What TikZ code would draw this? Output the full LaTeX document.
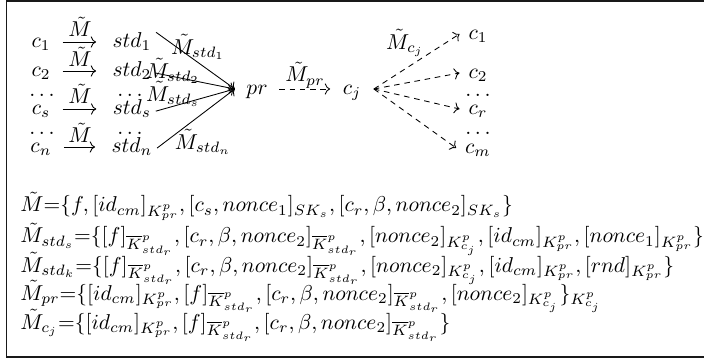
\documentclass[tikz,border=0pt]{standalone}
\usepackage{amsmath}
\usetikzlibrary{arrows.meta}
\begin{document}
\begin{tikzpicture}[x=0.465pt,y=-0.465pt,
  mnode/.style={text height=7pt,text depth=2pt,inner sep=2pt},
  tnode/.style={mnode,inner sep=4pt},
  dotnode/.style={anchor=base,inner sep=0pt},
  lbl/.style={inner sep=0pt},
  arr/.style={-{Computer Modern Rightarrow},line width=0.4pt},
  rowarr/.style={arr,shorten <=3.5pt,shorten >=5.5pt},
  darr/.style={arr,dashed,dash pattern=on 2.6pt off 2.2pt},
  eq/.style={anchor=base west,inner sep=0pt},
  frame/.style={line width=0.9pt,draw=black!90}]
\useasboundingbox (0,0) rectangle (704,360);
\draw[frame] (720,0.9) -- (6.5,0.9) -- (6.5,357.3) -- (720,357.3);
% left column
\node[mnode] (c1) at (41,42) {$c_1$};
\node[mnode] (s1) at (132,42) {$std_1$};
\node[mnode] (c2) at (41,71) {$c_2$};
\node[mnode] (s2) at (132,71) {$std_2$};
\node[dotnode] (dl1) at (42,97) {$\ldots$};
\node[dotnode] (dr1) at (130,97) {$\ldots$};
\node[mnode] (cs) at (41,109) {$c_s$};
\node[mnode] (ss) at (132,109) {$std_s$};
\node[dotnode] (dl2) at (42,135) {$\ldots$};
\node[dotnode] (dr2) at (130,135) {$\ldots$};
\node[mnode] (cn) at (41,147) {$c_n$};
\node[mnode] (sn) at (132,147) {$std_n$};
\draw[rowarr] (c1) -- (s1);
\draw[rowarr] (c2) -- (s2);
\draw[rowarr] (cs) -- (ss);
\draw[rowarr] (cn) -- (sn);
\node[lbl] (l1) at (80,27) {$\tilde{M}$};
\node[lbl] (l2) at (80,57) {$\tilde{M}$};
\node[lbl] (l3) at (80,94) {$\tilde{M}$};
\node[lbl] (l4) at (80,133) {$\tilde{M}$};
% pr
\node[mnode,inner sep=5.2pt] (pr) at (257,89) {$pr$};
\draw[arr] ([yshift=4.5pt]s1.east) -- (pr.west);
\draw[arr] ([yshift=-1pt]s2.east) -- (pr.west);
\draw[arr] ([yshift=-1pt]ss.east) -- (pr.west);
\draw[arr] ([yshift=-0.5pt]sn.east) -- (pr.west);
\node[lbl] (m1) at (198,47) {$\tilde{M}_{std_1}$};
\node[lbl] (m2) at (173,71) {$\tilde{M}_{std_2}$};
\node[lbl] (m3) at (173,94) {$\tilde{M}_{std_s}$};
\node[lbl] (m4) at (203,142) {$\tilde{M}_{std_n}$};
% c_j
\node[mnode,inner sep=5.7pt] (cj) at (352,89) {$c_j$};
\draw[darr] (pr) -- (cj);
\node[lbl] (mpr) at (305,75) {$\tilde{M}_{pr}$};
\node[tnode] (t1) at (478,34) {$c_1$};
\node[tnode] (t2) at (478,73) {$c_2$};
\node[dotnode] (td1) at (478,97) {$\ldots$};
\node[tnode] (tr) at (478,109) {$c_r$};
\node[dotnode] (td2) at (478,135) {$\ldots$};
\node[tnode] (tm) at (478,148) {$c_m$};
\draw[darr] (cj.east) -- (t1.west);
\draw[darr] (cj.east) -- (t2.west);
\draw[darr] (cj.east) -- (tr.west);
\draw[darr] (cj.east) -- (tm.west);
\node[lbl] (mcj) at (405,43) {$\tilde{M}_{c_j}$};
% equations
\node[eq] (e1) at (20,212) {$\tilde{M}{=}\{f,[id_{cm}]_{K^p_{pr}},[c_s,nonce_1]_{SK_s},[c_r,\beta,nonce_2]_{SK_s}\}$};
\node[eq] (e2) at (20,243) {$\tilde{M}_{std_s}{=}\{[f]_{\overline{K}^p_{std_r}},[c_r,\beta,nonce_2]_{\overline{K}^p_{std_r}},[nonce_2]_{K^p_{c_j}},[id_{cm}]_{K^p_{pr}},[nonce_1]_{K^p_{pr}}\}$};
\node[eq] (e3) at (20,272) {$\tilde{M}_{std_k}{=}\{[f]_{\overline{K}^p_{std_r}},[c_r,\beta,nonce_2]_{\overline{K}^p_{std_r}},[nonce_2]_{K^p_{c_j}},[id_{cm}]_{K^p_{pr}},[rnd]_{K^p_{pr}}\}$};
\node[eq] (e4) at (20,300) {$\tilde{M}_{pr}{=}\{[id_{cm}]_{K^p_{pr}},[f]_{\overline{K}^p_{std_r}},[c_r,\beta,nonce_2]_{\overline{K}^p_{std_r}},[nonce_2]_{K^p_{c_j}}\}_{K^p_{c_j}}$};
\node[eq] (e5) at (20,329) {$\tilde{M}_{c_j}{=}\{[id_{cm}]_{K^p_{pr}},[f]_{\overline{K}^p_{std_r}},[c_r,\beta,nonce_2]_{\overline{K}^p_{std_r}}\}$};
\end{tikzpicture}
\end{document}
